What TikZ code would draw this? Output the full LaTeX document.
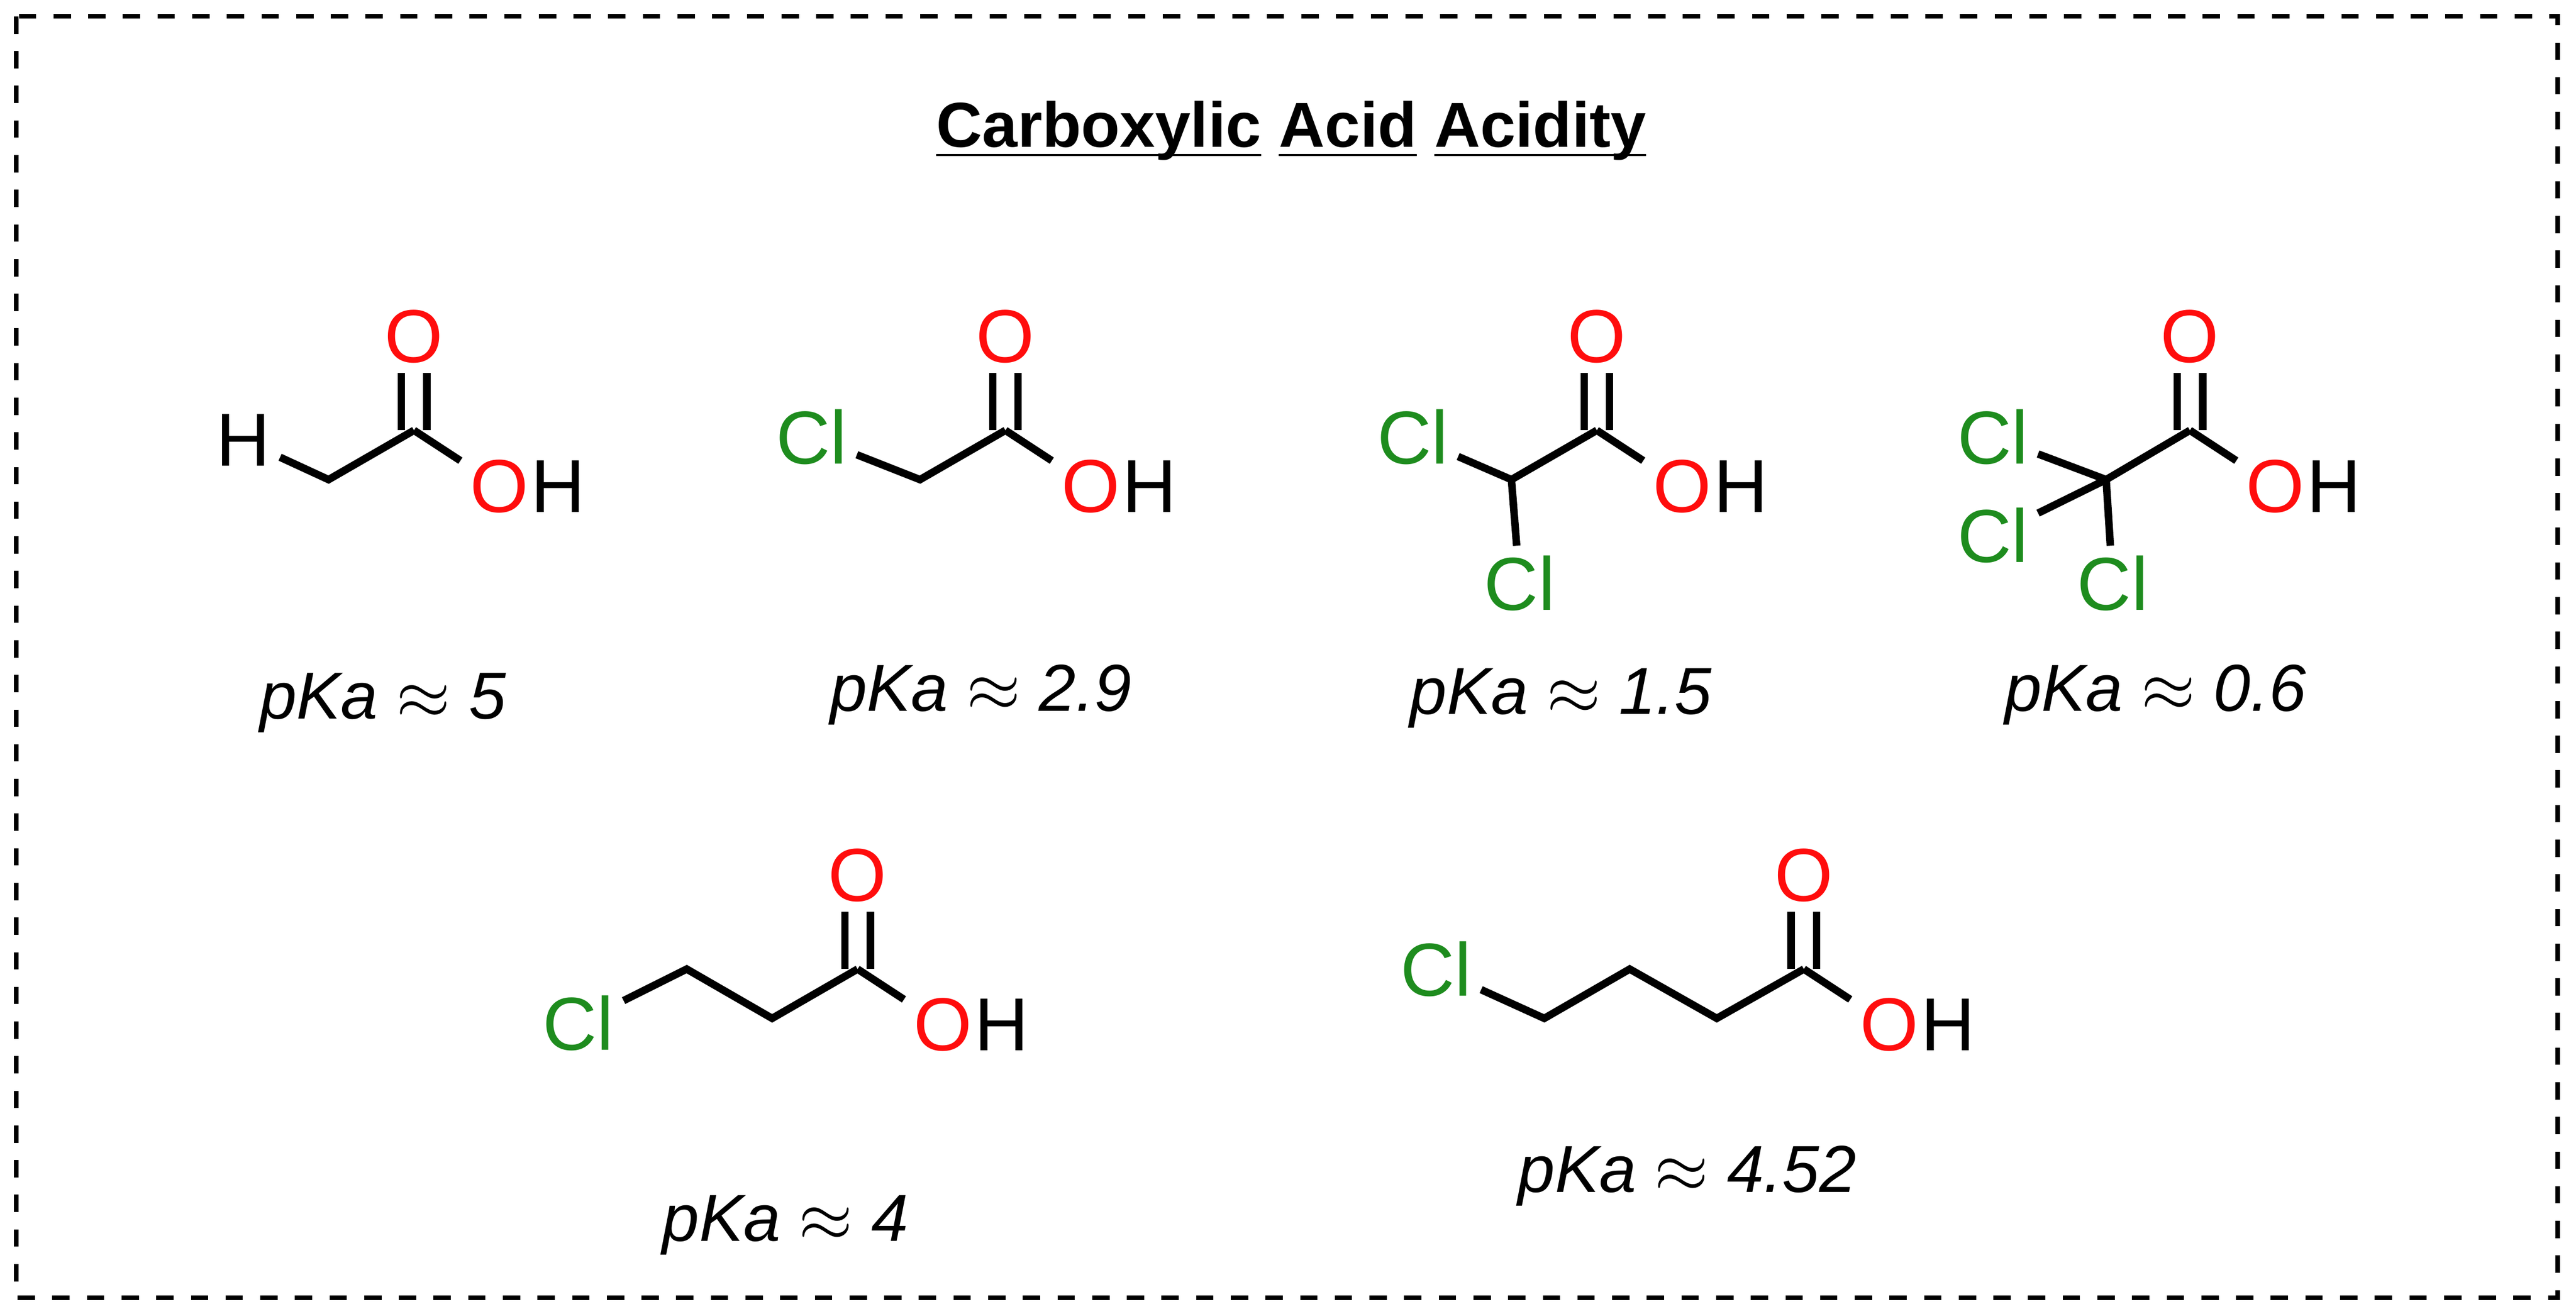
\documentclass[tikz,border=0pt]{standalone}
\usepackage{fontspec}
\setmainfont{Liberation Sans}
\definecolor{ored}{RGB}{255,13,13}
\definecolor{clg}{RGB}{30,140,30}
\newcommand\ul[1]{\underline{\smash{#1}}}
\begin{document}
\begin{tikzpicture}[x=0.01cm,y=-0.01cm,
 atm/.style={inner sep=1.5pt,font=\fontsize{13}{13}\selectfont},
 O/.style={atm,text=ored},Cl/.style={atm,text=clg},
 b/.style={line width=1.3pt},
 pk/.style={font=\fontsize{11.5}{11.5}\selectfont\itshape}]
\useasboundingbox (0,0) rectangle (1568,800);
\draw[dashed,line width=0.8pt] (10,10) rectangle (1557,790);
\node[font=\fontsize{11}{11}\selectfont\bfseries] (t) at (786,93) {\ul{Carboxylic} \ul{Acid} \ul{Acidity}};
\newcommand\acid[3]{%
 \coordinate (#1c) at (#2,#3);
 \node[O] (#1o) at (#2,#3-57) {O};
 \node[O] (#1oh) at (#2+52,#3+34) {O};
 \node[atm,anchor=west,inner sep=0pt] (#1h) at ([xshift=-1.5pt]#1oh.east) {H};
 \draw[b] ([xshift=-2.2pt]#1c) -- ([xshift=-2.2pt]#1o.south);
 \draw[b] ([xshift=2.2pt]#1c) -- ([xshift=2.2pt]#1o.south);
 \draw[b] (#1c) -- (#1oh);}
% 1
\node[atm] (h1) at (148,268) {H};
\coordinate (a1) at (200,292);
\acid{m1}{252}{262}
\draw[b] (h1) -- (a1) -- (m1c);
\node[pk] (p1) at (233,428) {pKa $\approx$ 5};
% 2
\node[Cl] (cl2) at (494,266) {Cl};
\coordinate (a2) at (560,292);
\acid{m2}{612}{262}
\draw[b] (cl2) -- (a2) -- (m2c);
\node[pk] (p2) at (597,423) {pKa $\approx$ 2.9};
% 3
\node[Cl] (cl3) at (860,266) {Cl};
\coordinate (a3) at (920,292);
\node[Cl] (cl3b) at (925,355) {Cl};
\acid{m3}{972}{262}
\draw[b] (cl3) -- (a3) -- (m3c);
\draw[b] (a3) -- (cl3b);
\node[pk] (p3) at (950,425) {pKa $\approx$ 1.5};
% 4
\coordinate (a4) at (1282,292);
\node[Cl] (cl4a) at (1213,266) {Cl};
\node[Cl] (cl4b) at (1213,326) {Cl};
\node[Cl] (cl4c) at (1286,355) {Cl};
\acid{m4}{1333}{262}
\draw[b] (cl4a) -- (a4) -- (m4c);
\draw[b] (cl4b) -- (a4) -- (cl4c);
\node[pk] (p4) at (1312,423) {pKa $\approx$ 0.6};
% 5
\node[Cl] (cl5) at (352,623) {Cl};
\coordinate (a5) at (418,590);
\coordinate (b5) at (470,620);
\acid{m5}{522}{590}
\draw[b] (cl5) -- (a5) -- (b5) -- (m5c);
\node[pk] (p5) at (478,746) {pKa $\approx$ 4};
% 6
\node[Cl] (cl6) at (874,590) {Cl};
\coordinate (a6) at (940,620);
\coordinate (b6) at (992,590);
\coordinate (c6) at (1045,620);
\acid{m6}{1098}{590}
\draw[b] (cl6) -- (a6) -- (b6) -- (c6) -- (m6c);
\node[pk] (p6) at (1027,716) {pKa $\approx$ 4.52};
\end{tikzpicture}
\end{document}
